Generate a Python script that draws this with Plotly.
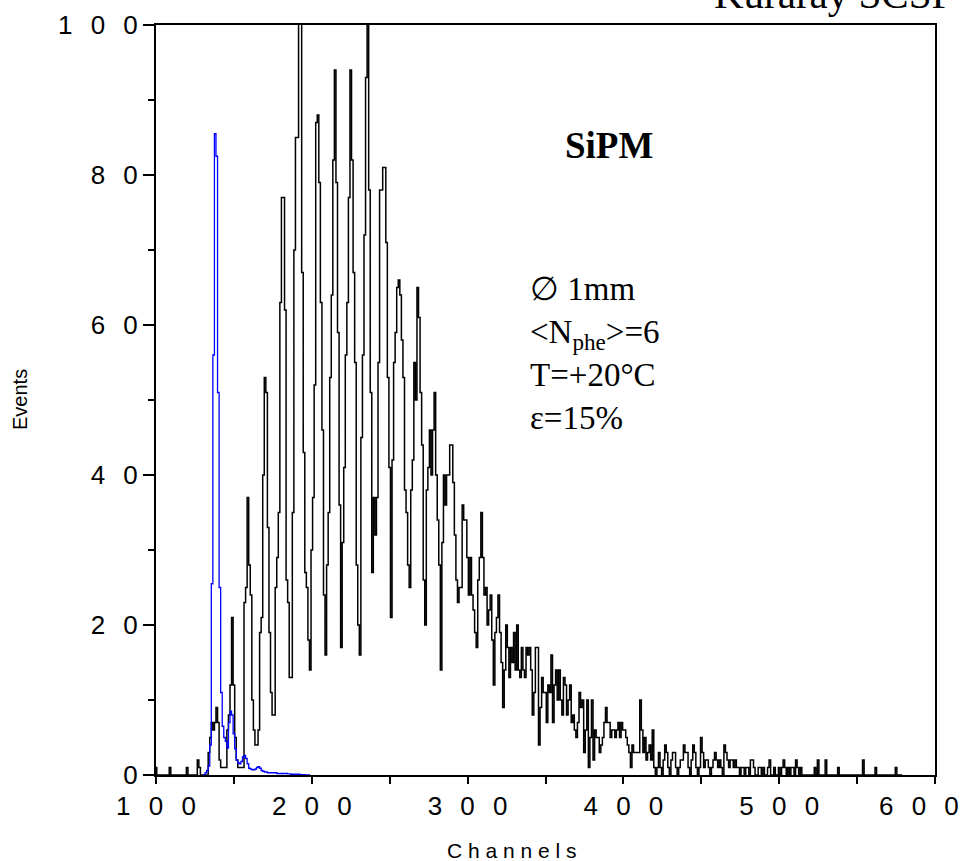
import plotly.graph_objects as go

# ---- data -------------------------------------------------------------
start_black = 100
black_counts = [
    1,0,0,0,0,0,0,0,0,1,        # 100
    0,0,0,0,0,0,0,0,0,0,        # 110
    1,0,0,0,0,0,0,2,1,0,        # 120
    0,0,0,0,3,5,7,6,7,9,        # 130
    7,2,1,1,1,1,6,8,12,21,      # 140
    12,5,2,1,1,1,1,23,25,37,    # 150
    28,24,10,6,4,4,6,19,21,40,  # 160
    53,51,33,19,11,8,8,25,29,35,  # 170
    63,77,77,62,26,23,13,13,35,70,  # 180
    85,85,104,104,67,43,27,25,18,14,  # 190
    30,37,52,87,88,79,63,46,24,16,  # 200
    28,35,53,64,82,94,79,59,36,17,  # 210
    31,41,56,63,77,94,82,67,55,28,  # 220
    20,16,45,56,72,93,104,78,51,27,  # 230
    37,32,37,55,78,78,81,81,71,53,  # 240
    41,21,42,55,59,65,66,64,58,53,  # 250
    38,35,28,25,38,42,55,50,65,61,  # 260
    51,44,26,20,38,41,46,40,46,51,  # 270
    40,34,28,14,31,40,36,40,40,44,  # 280
    44,39,32,26,23,25,25,36,34,34,  # 290
    29,24,29,24,22,19,17,26,29,35,  # 300
    29,24,25,20,22,24,18,12,19,21,  # 310
    24,19,15,9,14,20,17,13,17,15,   # 320
    19,14,20,14,13,17,14,13,17,16,  # 330
    17,14,8,11,17,17,4,9,13,11,     # 340
    11,7,12,11,16,7,12,14,10,14,    # 350
    10,8,13,12,8,10,12,7,8,6,       # 360
    5,7,11,9,10,3,6,10,1,5,         # 370
    10,2,6,5,5,3,4,5,7,9,           # 380
    7,7,5,6,6,5,6,7,5,7,            # 390
    6,6,5,4,3,1,4,3,3,3,            # 400
    3,10,6,3,5,2,3,4,2,6,           # 410
    1,0,1,3,1,0,2,4,3,1,            # 420
    0,2,3,3,1,0,1,2,2,4,            # 430
    3,3,1,0,2,4,3,1,0,1,            # 440
    5,3,1,2,2,1,0,1,2,3,            # 450
    2,1,2,1,0,4,3,2,1,2,            # 460
    2,1,2,1,1,0,1,1,0,1,            # 470
    1,0,2,2,1,0,0,1,1,0,            # 480
    1,0,0,1,2,0,0,1,0,0,            # 490
    1,0,1,2,1,0,1,0,1,1,            # 500
    0,2,1,0,1,0,0,0,0,0,            # 510
    0,0,0,1,0,2,0,0,0,0,            # 520
    2,0,0,0,0,0,0,0,1,0,            # 530
    0,0,0,0,0,0,0,0,0,0,            # 540
    0,0,0,0,2,0,0,0,0,0,            # 550
    0,0,1,0,0,0,0,0,0,0,            # 560
    0,0,0,0,0,1,0,0,0,0,            # 570
]
black_channels = list(range(start_black, start_black + len(black_counts)))

start_blue = 130
blue_counts = [
    0,0,0.3,0.6,1.2,4,25.5,56,85.5,82.5,
    51,25,11,6.5,5,4.5,3.6,7,8.5,8,
    5.5,3.5,2,1.6,1.5,1.8,2.4,2.6,2.2,1.5,
    0.9,0.8,0.7,0.7,0.8,1.0,1.1,0.9,0.6,0.5,
    0.4,0.4,0.3,0.3,0.3,0.3,0.3,0.3,0.2,0.2,
    0.2,0.2,0.2,0.2,0.2,0.15,0.15,0.1,0.1,0.1,
    0.1,0.1,0.1,0.05,0.05,0.05,0,0,0,0,
]
blue_channels = list(range(start_blue, start_blue + len(blue_counts)))

x_ticks = [100, 200, 300, 400, 500, 600]
y_ticks = [0, 20, 40, 60, 80, 100]
SP = "\u2002\u2009"
def spaced(v):
    return SP.join(str(v))
x_ticktext = [spaced(v) for v in x_ticks]
last_x_label = x_ticktext[-1]
x_ticktext[-1] = ""          # drawn as an annotation so it stays inside the page
y_ticktext = [spaced(v) for v in y_ticks]

# ---- figure -----------------------------------------------------------
fig = go.Figure()
fig.add_trace(go.Scatter(x=black_channels, y=black_counts, mode="lines",
                         line=dict(color="#000000", width=1.5, shape="hvh"),
                         showlegend=False, hoverinfo="skip"))
fig.add_trace(go.Scatter(x=blue_channels, y=blue_counts, mode="lines",
                         line=dict(color="#0000ff", width=1.3, shape="hvh"),
                         showlegend=False, hoverinfo="skip"))

sans = "Arial, Liberation Sans, sans-serif"
tick_font = dict(family=sans, size=26, color="black")
fig.update_xaxes(range=[100, 600], tickvals=x_ticks, ticktext=x_ticktext,
                 ticks="outside", ticklen=7, tickwidth=1.5, tickcolor="black",
                 minor=dict(dtick=50, tick0=100, ticks="outside", ticklen=7,
                            tickwidth=1.5, tickcolor="black"),
                 showline=True, linewidth=2, linecolor="black", mirror=True,
                 showgrid=False, zeroline=False, tickfont=tick_font,
                 automargin=False, ticklabeloverflow="allow")
fig.update_yaxes(range=[0, 100], tickvals=y_ticks, ticktext=y_ticktext,
                 ticks="outside", ticklen=11, tickwidth=1.5, tickcolor="black",
                 minor=dict(dtick=10, tick0=0, ticks="outside", ticklen=6,
                            tickwidth=1.5, tickcolor="black"),
                 showline=True, linewidth=2, linecolor="black", mirror=True,
                 showgrid=False, zeroline=False, tickfont=tick_font,
                 automargin=False, ticklabeloverflow="allow")

serif = "Times New Roman, Liberation Serif, serif"
annotations = [
    dict(text="Kuraray SCSF", xref="paper", yref="paper", x=(956 - 156) / 779,
         y=1.008, xanchor="right", yanchor="bottom", showarrow=False,
         font=dict(family=serif, size=41, color="black")),
    dict(text="<b>SiPM</b>", xref="x", yref="y", x=361, y=84,
         xanchor="left", yanchor="middle", showarrow=False,
         font=dict(family=serif, size=37, color="black")),
    dict(text="\u2205 1mm<br>&lt;N<sub>phe</sub>&gt;=6<br>T=+20\u00b0C<br>\u03b5=15%",
         xref="x", yref="y", x=338.5, y=67.5, xanchor="left", yanchor="top",
         align="left", showarrow=False,
         font=dict(family=serif, size=33, color="black")),
    dict(text="Events", xref="paper", yref="paper", x=(20 - 156) / 779, y=0.5,
         xanchor="center", yanchor="middle", textangle=-90, showarrow=False,
         font=dict(family=sans, size=20, color="black")),
    dict(text="C h a n n e l s", xref="paper", yref="paper",
         x=(512 - 156) / 779, y=(775 - 850) / 750,
         xanchor="center", yanchor="middle", showarrow=False,
         font=dict(family=sans, size=21, color="black")),
    dict(text=last_x_label, xref="paper", yref="paper",
         x=(961 - 156) / 779, y=(775 - 806) / 750,
         xanchor="right", yanchor="middle", showarrow=False,
         font=tick_font),
]

fig.update_layout(width=965, height=861,
                  margin=dict(l=156, r=30, t=25, b=86),
                  paper_bgcolor="white", plot_bgcolor="white",
                  annotations=annotations)

fig.write_html("out.html")
